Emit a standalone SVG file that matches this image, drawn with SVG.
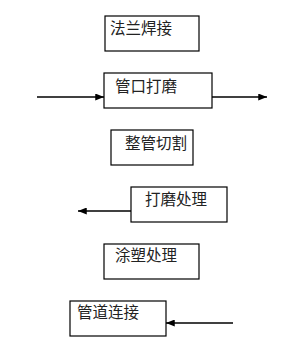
<svg xmlns="http://www.w3.org/2000/svg" width="286" height="343" viewBox="0 0 286 343">
<style>
.box{fill:#fff;stroke:#000;stroke-width:1.2}
.lbl{font-family:"Noto Sans CJK SC","Noto Sans CJK JP",sans-serif;font-size:15.5px;fill:#222}
.con{stroke:#000;stroke-width:1.4;fill:none;marker-end:url(#ah)}
</style>
<defs>
<marker id="ah" viewBox="0 0 10 8" refX="10" refY="4" markerWidth="9" markerHeight="7" markerUnits="userSpaceOnUse" orient="auto">
<path d="M0,0 L10,4 L0,8 z" fill="#000"/>
</marker>
</defs>
<rect width="286" height="343" fill="#fff"/>
<g id="connectors">
<line class="con" x1="37" y1="97" x2="104" y2="97"/>
<line class="con" x1="212" y1="97" x2="267" y2="97"/>
<line class="con" x1="131" y1="211" x2="78" y2="211"/>
<line class="con" x1="233" y1="323" x2="166" y2="323"/>
</g>
<g id="n1"><rect class="box" x="105" y="16" width="94" height="35"/><text class="lbl" x="110" y="34">法兰焊接</text></g>
<g id="n2"><rect class="box" x="104" y="73" width="108" height="35"/><text class="lbl" x="115" y="92">管口打磨</text></g>
<g id="n3"><rect class="box" x="111" y="130" width="82" height="35"/><text class="lbl" x="125" y="149">整管切割</text></g>
<g id="n4"><rect class="box" x="131" y="187" width="96" height="35"/><text class="lbl" x="145" y="205">打磨处理</text></g>
<g id="n5"><rect class="box" x="104" y="244" width="95" height="35"/><text class="lbl" x="115" y="261">涂塑处理</text></g>
<g id="n6"><rect class="box" x="70" y="301" width="96" height="35"/><text class="lbl" x="77" y="318">管道连接</text></g>
</svg>
